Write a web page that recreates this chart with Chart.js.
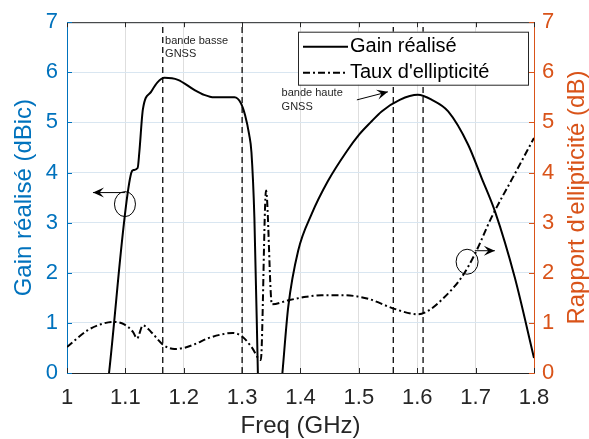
<!DOCTYPE html>
<html>
<head>
<meta charset="utf-8">
<script src="https://cdn.jsdelivr.net/npm/chart.js@4.4.1/dist/chart.umd.min.js"></script>
<style>
  html, body { margin: 0; padding: 0; background: #fff; }
  #wrap { width: 589px; height: 439px; position: relative; }
</style>
</head>
<body>
<div id="wrap"><canvas id="chart"></canvas></div>
<script>
// --- data ---
const gainFreq = [1.072, 1.110, 1.114, 1.121, 1.124, 1.130, 1.144, 1.155, 1.167, 1.190, 1.218, 1.235, 1.252, 1.287, 1.298, 1.305, 1.312, 1.316, 1.321, 1.327,
                  1.348,
                  1.369, 1.379, 1.396, 1.419, 1.447, 1.479, 1.500, 1.520, 1.539, 1.570, 1.601, 1.625, 1.653, 1.687, 1.710, 1.733, 1.767, 1.800];
const gainDb   = [0.00, 3.99, 4.05, 4.09, 4.42, 5.26, 5.61, 5.80, 5.89, 5.85, 5.65, 5.55, 5.50, 5.50, 5.38, 5.15, 4.76, 4.40, 3.10, 0.00,
                  null,
                  0.00, 1.32, 2.44, 3.17, 3.83, 4.42, 4.75, 5.00, 5.22, 5.45, 5.55, 5.45, 5.22, 4.56, 3.90, 3.23, 1.91, 0.30];

const ellipFreq = [1.000, 1.035, 1.060, 1.078, 1.098, 1.113, 1.120, 1.130, 1.144, 1.165, 1.184, 1.200, 1.220, 1.241, 1.265, 1.284, 1.301, 1.316, 1.332,
                   1.341, 1.351, 1.379, 1.410, 1.436, 1.476, 1.516, 1.561, 1.601, 1.620, 1.641, 1.676, 1.699, 1.727, 1.767, 1.800];
const ellipDb   = [0.52, 0.85, 0.98, 1.02, 0.97, 0.82, 0.69, 0.95, 0.82, 0.56, 0.48, 0.50, 0.58, 0.69, 0.77, 0.80, 0.72, 0.52, 0.26,
                   3.64, 1.37, 1.45, 1.52, 1.55, 1.55, 1.48, 1.28, 1.17, 1.25, 1.45, 1.91, 2.38, 3.10, 3.97, 4.69];

const bandEdges = [1.164, 1.300, 1.559, 1.610];
const xTicks = [1, 1.1, 1.2, 1.3, 1.4, 1.5, 1.6, 1.7, 1.8];
const yTicks = [0, 1, 2, 3, 4, 5, 6, 7];

const BLUE = '#0072BD';
const ORANGE = '#D95319';
const INK = '#262626';
const FONT = '"Liberation Sans", Arial, Helvetica, sans-serif';

const toPoints = (xs, ys) => xs.map((x, i) => ({ x: x, y: ys[i] }));

const datasets = [
    {
        label: 'Gain réalisé',
        data: toPoints(gainFreq, gainDb),
        yAxisID: 'y',
        borderColor: '#000',
        borderWidth: 2,
        pointRadius: 0,
        spanGaps: false,
        cubicInterpolationMode: 'monotone'
    },
    {
        label: "Taux d'ellipticité",
        data: toPoints(ellipFreq, ellipDb),
        yAxisID: 'y1',
        borderColor: '#000',
        borderWidth: 2,
        borderDash: [7, 3, 2, 3],
        pointRadius: 0,
        cubicInterpolationMode: 'monotone'
    }
];
// band limits as plain vertical dashed lines
bandEdges.forEach(f => {
    datasets.push({
        label: 'band',
        data: [{ x: f, y: 0 }, { x: f, y: 7 }],
        yAxisID: 'y',
        borderColor: '#1a1a1a',
        borderWidth: 1.4,
        borderDash: [6, 4],
        pointRadius: 0
    });
});

function arrow(ctx, x1, y1, x2, y2) {
    const a = Math.atan2(y2 - y1, x2 - x1);
    ctx.beginPath();
    ctx.moveTo(x1, y1);
    ctx.lineTo(x2, y2);
    ctx.stroke();
    const len = 11, w = 5;
    ctx.save();
    ctx.translate(x2, y2);
    ctx.rotate(a);
    ctx.beginPath();
    ctx.moveTo(0, 0);
    ctx.lineTo(-len, -w);
    ctx.lineTo(-len * 0.6, 0);
    ctx.lineTo(-len, w);
    ctx.closePath();
    ctx.fill();
    ctx.restore();
}

// annotations, legend box, top border, inward ticks, right axis label
const decorPlugin = {
    id: 'decor',
    afterDatasetsDraw(chart) {
        const ctx = chart.ctx;
        const a = chart.chartArea;
        const sx = chart.scales.x, sy = chart.scales.y, sy1 = chart.scales.y1;
        const px = v => sx.getPixelForValue(v);
        const py = v => sy.getPixelForValue(v);
        ctx.save();

        // top border
        ctx.strokeStyle = INK;
        ctx.lineWidth = 1;
        ctx.beginPath();
        ctx.moveTo(a.left, a.top + 0.5);
        ctx.lineTo(a.right, a.top + 0.5);
        ctx.stroke();

        // inward ticks
        xTicks.forEach(v => {
            const x = Math.round(px(v)) + 0.5;
            ctx.beginPath();
            ctx.moveTo(x, a.bottom); ctx.lineTo(x, a.bottom - 5);
            ctx.moveTo(x, a.top); ctx.lineTo(x, a.top + 5);
            ctx.stroke();
        });
        yTicks.forEach(v => {
            const y = Math.round(py(v)) + 0.5;
            ctx.strokeStyle = BLUE;
            ctx.beginPath(); ctx.moveTo(a.left, y); ctx.lineTo(a.left + 5, y); ctx.stroke();
            const y1 = Math.round(sy1.getPixelForValue(v)) + 0.5;
            ctx.strokeStyle = ORANGE;
            ctx.beginPath(); ctx.moveTo(a.right, y1); ctx.lineTo(a.right - 5, y1); ctx.stroke();
        });

        // right axis label, reading bottom to top
        ctx.save();
        ctx.translate(577, (a.top + a.bottom) / 2);
        ctx.rotate(-Math.PI / 2);
        ctx.fillStyle = ORANGE;
        ctx.font = '24px ' + FONT;
        ctx.textAlign = 'center';
        ctx.textBaseline = 'middle';
        ctx.fillText("Rapport d'ellipticité (dB)", 0, 0);
        ctx.restore();

        // band labels
        ctx.fillStyle = INK;
        ctx.font = '11px ' + FONT;
        ctx.textAlign = 'left';
        ctx.textBaseline = 'alphabetic';
        ctx.fillText('bande basse', px(1.168), py(6.57));
        ctx.fillText('GNSS', px(1.168), py(6.30));
        ctx.fillText('bande haute', px(1.3676), py(5.53));
        ctx.fillText('GNSS', px(1.3676), py(5.25));

        // arrows and ellipses
        ctx.strokeStyle = '#000';
        ctx.fillStyle = '#000';
        ctx.lineWidth = 1;
        arrow(ctx, px(1.4966), py(5.45), px(1.5497), py(5.61));
        arrow(ctx, px(1.0993), py(3.60), px(1.0445), py(3.60));
        arrow(ctx, px(1.6986), py(2.44), px(1.7329), py(2.44));
        ctx.beginPath();
        ctx.ellipse(px(1.0993), py(3.37), 10.5, 12.5, 0, 0, Math.PI * 2);
        ctx.stroke();
        ctx.beginPath();
        ctx.ellipse(px(1.6854), py(2.22), 11, 12.5, 0, 0, Math.PI * 2);
        ctx.stroke();

        // legend
        const lx = a.right - 236, ly = a.top + 9.5, lw = 230, lh = 53;
        ctx.fillStyle = '#fff';
        ctx.fillRect(lx, ly, lw, lh);
        ctx.strokeStyle = INK;
        ctx.lineWidth = 1;
        ctx.strokeRect(lx + 0.5, ly + 0.5, lw, lh);
        ctx.strokeStyle = '#000';
        ctx.lineWidth = 2;
        ctx.beginPath();
        ctx.moveTo(lx + 5, ly + 15); ctx.lineTo(lx + 50, ly + 15);
        ctx.stroke();
        ctx.setLineDash([7, 3, 2, 3]);
        ctx.beginPath();
        ctx.moveTo(lx + 5, ly + 41); ctx.lineTo(lx + 50, ly + 41);
        ctx.stroke();
        ctx.setLineDash([]);
        ctx.fillStyle = '#000';
        ctx.font = '20px ' + FONT;
        ctx.textBaseline = 'middle';
        ctx.fillText('Gain réalisé', lx + 52, ly + 15);
        ctx.fillText("Taux d'ellipticité", lx + 52, ly + 41);

        ctx.restore();
    }
};

new Chart(document.getElementById('chart'), {
    type: 'line',
    data: { datasets: datasets },
    options: {
        responsive: true,
        maintainAspectRatio: false,
        animation: false,
        layout: { padding: { top: 20, left: 0, right: 0, bottom: 0 } },
        plugins: { legend: { display: false }, tooltip: { enabled: false } },
        scales: {
            x: {
                type: 'linear',
                min: 1, max: 1.8,
                afterBuildTicks: s => { s.ticks = xTicks.map(v => ({ value: v })); },
                afterFit: s => { s.height = 66; },
                ticks: {
                    color: INK,
                    font: { family: FONT, size: 22 },
                    padding: 12,
                    maxRotation: 0,
                    callback: v => String(+Number(v).toFixed(1))
                },
                grid: { color: '#dedede', drawTicks: false },
                border: { color: INK },
                title: {
                    display: true,
                    text: 'Freq (GHz)',
                    color: INK,
                    font: { family: FONT, size: 24 },
                    padding: { top: 0, bottom: -2 }
                }
            },
            y: {
                position: 'left',
                min: 0, max: 7,
                afterBuildTicks: s => { s.ticks = yTicks.map(v => ({ value: v })); },
                afterFit: s => { s.width = 67; },
                ticks: { color: BLUE, font: { family: FONT, size: 22 }, padding: 9 },
                grid: { color: '#d9e6f1', drawTicks: false },
                border: { color: BLUE },
                title: {
                    display: true,
                    text: 'Gain réalisé (dBic)',
                    color: BLUE,
                    font: { family: FONT, size: 24 },
                    padding: { top: 10, bottom: 0 }
                }
            },
            y1: {
                position: 'right',
                min: 0, max: 7,
                afterBuildTicks: s => { s.ticks = yTicks.map(v => ({ value: v })); },
                afterFit: s => { s.width = 55; },
                ticks: { color: ORANGE, font: { family: FONT, size: 22 }, padding: 8 },
                grid: { display: false, drawTicks: false },
                border: { color: ORANGE }
            }
        }
    },
    plugins: [decorPlugin]
});
</script>
</body>
</html>
